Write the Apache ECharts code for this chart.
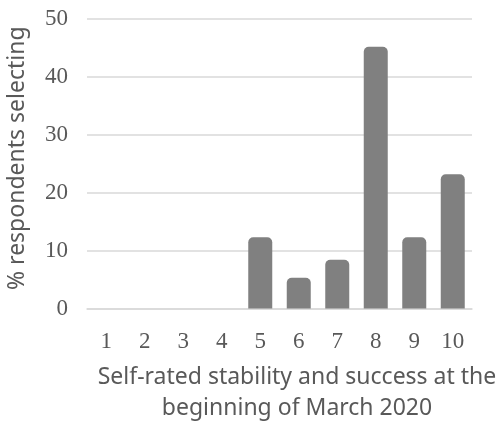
<!DOCTYPE html>
<html><head><meta charset="utf-8">
<script src="https://cdn.jsdelivr.net/npm/echarts@6/dist/echarts.min.js"></script>
<style>html,body{margin:0;padding:0;background:#fff}#c{width:502px;height:425px}</style>
</head><body><div id="c"></div>
<script>
const categories = ['1','2','3','4','5','6','7','8','9','10'];
const values = [0, 0, 0, 0, 12.3, 5.3, 8.4, 45.2, 12.3, 23.2];
const yTicks = [0, 10, 20, 30, 40, 50];
const xTitle = 'Self-rated stability and success at the\nbeginning of March 2020';
const yTitle = '% respondents selecting';

const chart = echarts.init(document.getElementById('c'), null, {renderer: 'canvas'});
chart.setOption({
  animation: false,
  grid: {left: 87, right: 30, top: 19, bottom: 116.5, containLabel: false},
  xAxis: {
    type: 'category', data: categories,
    axisLine: {show: true, lineStyle: {color: '#d9d9d9', width: 1.5}},
    axisTick: {show: false},
    axisLabel: {color: '#595959', fontFamily: 'Liberation Serif', fontSize: 23, margin: 22}
  },
  yAxis: {
    type: 'value', min: yTicks[0], max: yTicks[yTicks.length-1], interval: 10,
    axisLine: {show: false}, axisTick: {show: false},
    splitLine: {lineStyle: {color: '#d9d9d9', width: 1.5}},
    axisLabel: {color: '#595959', fontFamily: 'Liberation Serif', fontSize: 23, margin: 19}
  },
  series: [{
    type: 'bar', data: values, barWidth: 24,
    itemStyle: {color: '#808080', borderRadius: [5, 5, 0, 0]}
  }],
  graphic: [
    {type: 'text', x: 297, y: 362, style: {
      text: xTitle, fill: '#595959', font: '23px "Noto Sans"', align: 'center', lineHeight: 31
    }},
    {type: 'text', rotation: Math.PI/2, x: 6, y: 290, style: {
      text: yTitle, fill: '#595959', font: '23px "Noto Sans"'
    }}
  ]
});
</script></body></html>
